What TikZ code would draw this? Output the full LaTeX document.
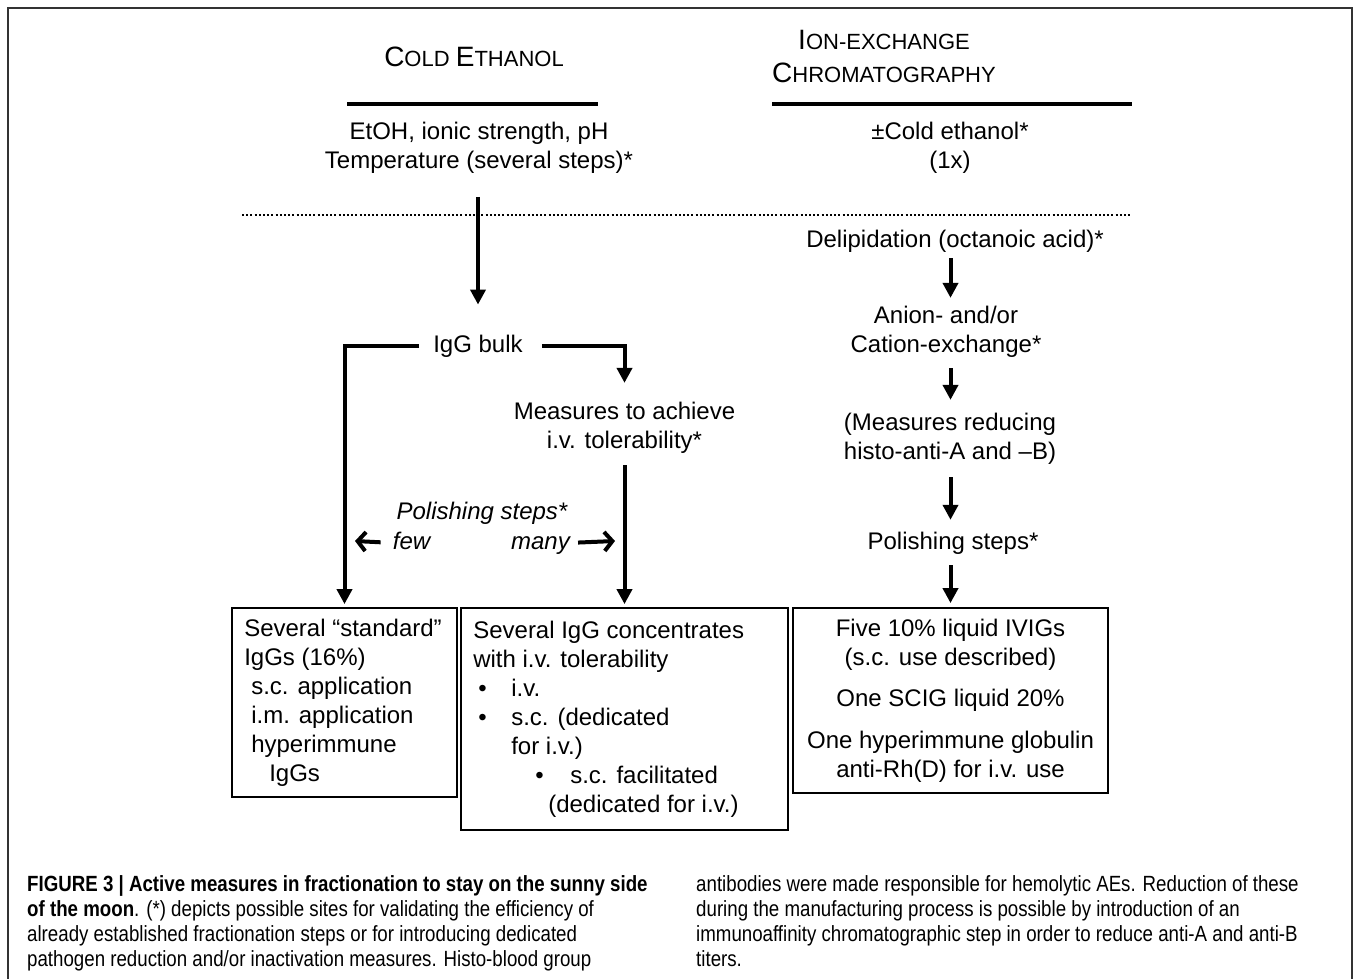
\documentclass[tikz,border=0pt]{standalone}
\usepackage{fontspec}
\setmainfont{Liberation Sans}
\newfontfamily\capfont[FakeStretch=0.85]{Liberation Sans}
\usetikzlibrary{arrows.meta,calc}
\newcommand\hdC[1]{{\fontsize{28}{33}\selectfont #1}}
\begin{document}
\begin{tikzpicture}[x=1pt,y=-1pt,
  txt/.style={font=\fontsize{24}{29}\selectfont, inner sep=3pt, align=center},
  one/.style={txt, text height=17.5pt, text depth=5pt},
  hdr/.style={font=\fontsize{22}{33}\selectfont, inner sep=0pt, align=center},
  boxframe/.style={draw, line width=1.8pt, inner sep=0pt},
  boxtext/.style={font=\fontsize{24}{29}\selectfont, inner sep=0pt},
  arr/.style={line width=4pt, -{Triangle[width=15pt,length=15pt]}},
  parr/.style={line width=4pt, -{Straight Barb[length=8pt,width=19pt]}},
  bar/.style={line width=3.5pt},
  captxt/.style={font=\capfont\fontsize{22}{25}\selectfont, inner sep=0pt, align=left, anchor=north west}
]
\useasboundingbox (0,0) rectangle (1354,978);
\draw[line width=1.3pt, black!80] (8,980) -- (8,8) -- (1352,8) -- (1352,980);

% headers
\node[hdr] (hL) at (474,57) {\hdC{C}OLD \hdC{E}THANOL};
\node[hdr] (hR) at (884,56.5) {\hdC{I}ON-EXCHANGE\\\hdC{C}HROMATOGRAPHY};
\draw[bar] (347,104) -- (598,104);
\draw[bar] (772,104) -- (1132,104);

\node[txt] (temp) at (479,148) {EtOH, ionic strength, pH\\Temperature (several steps)*};
\node[txt] (ceth) at (950,148) {±Cold ethanol*\\(1x)};
\draw[line width=2pt, dash pattern=on 2pt off 2.2pt] (242,215) -- (1130,215);

% left part
\node[one] (igg) at (478,346) {IgG bulk};
\node[txt] (meas) at (624.5,427.5) {Measures to achieve\\i.v. tolerability*};
\node[one, font=\fontsize{24}{29}\selectfont\itshape, anchor=base] (pol) at (482,519) {Polishing steps*};
\node[one, font=\fontsize{24}{29}\selectfont\itshape, anchor=base] (few) at (411.5,549) {few};
\node[one, font=\fontsize{24}{29}\selectfont\itshape, anchor=base] (many) at (540.5,549) {many};
\coordinate (fewend) at (355,541);
\coordinate (manyend) at (615,541);

% right part
\node[one] (dl) at (955,241) {Delipidation (octanoic acid)*};
\node[txt] (ae) at (946,331.5) {Anion- and/or\\Cation-exchange*};
\node[txt] (mr) at (950,438.5) {(Measures reducing\\histo-anti-A and –B)};
\node[one] (ps2) at (953,543) {Polishing steps*};

% boxes
\node[boxframe, minimum width=225pt, minimum height=189pt] (b1) at (344.5,702.5) {};
\node[boxframe, minimum width=327pt, minimum height=222pt] (b2) at (624.5,719) {};
\node[boxframe, minimum width=315pt, minimum height=185pt] (b3) at (950.5,700.5) {};

\node[boxtext, anchor=west, align=left] (t1) at ([xshift=13pt]b1.west) {Several “standard”\\IgGs (16\%)\\\hspace*{7pt}s.c. application\\\hspace*{7pt}i.m. application\\\hspace*{7pt}hyperimmune\\\hspace*{25pt}IgGs};
\node[boxtext, anchor=west, align=left] (t2) at ([xshift=13pt]b2.west) {Several IgG concentrates\\with i.v. tolerability\\\hspace*{5pt}\makebox[33pt][l]{•}i.v.\\\hspace*{5pt}\makebox[33pt][l]{•}s.c. (dedicated\\\hspace*{38pt}for i.v.)\\\hspace*{62pt}\makebox[35pt][l]{•}s.c. facilitated\\\hspace*{75pt}(dedicated for i.v.)};
\node[boxtext, align=center] (t3) at (b3.center) {Five 10\% liquid IVIGs\\(s.c. use described)\\[12pt]One SCIG liquid 20\%\\[13pt]One hyperimmune globulin\\anti-Rh(D) for i.v. use};

% connectors
\draw[arr, shorten <=20pt, shorten >=27pt] (temp.south -| igg.north) -- (igg.north);
\draw[arr, shorten <=11pt, shorten >=3pt] (igg.west) -| (b1.north);
\draw[arr, shorten <=16pt, shorten >=15.75pt] (igg.east) -| (meas.north);
\draw[arr, shorten <=8.75pt, shorten >=3pt] (meas.south -| b2.north) -- (b2.north);
\draw[parr, shorten <=9pt] (few.west) -- (fewend);
\draw[parr, shorten <=5pt] (few.west -| many.east) -- (manyend);

\draw[arr, shorten <=3pt, shorten >=4.75pt] (dl.south -| b3.north) -- (ae.north -| b3.north);
\draw[arr, shorten <=7.75pt, shorten >=9.75pt] (ae.south -| b3.north) -- (mr.north -| b3.north);
\draw[arr, shorten <=9.75pt, shorten >=8.75pt] (mr.south -| b3.north) -- (ps2.north -| b3.north);
\draw[arr, shorten <=7.75pt, shorten >=4pt] (ps2.south -| b3.north) -- (b3.north);

% caption
\node[captxt] (capL) at (27,875) {\textbf{FIGURE 3 | Active measures in fractionation to stay on the sunny side}\\\textbf{of the moon}. (*) depicts possible sites for validating the efficiency of\\already established fractionation steps or for introducing dedicated\\pathogen reduction and/or inactivation measures. Histo-blood group};
\node[captxt] (capR) at (696,875) {antibodies were made responsible for hemolytic AEs. Reduction of these\\during the manufacturing process is possible by introduction of an\\immunoaffinity chromatographic step in order to reduce anti-A and anti-B\\titers.};
\end{tikzpicture}
\end{document}
